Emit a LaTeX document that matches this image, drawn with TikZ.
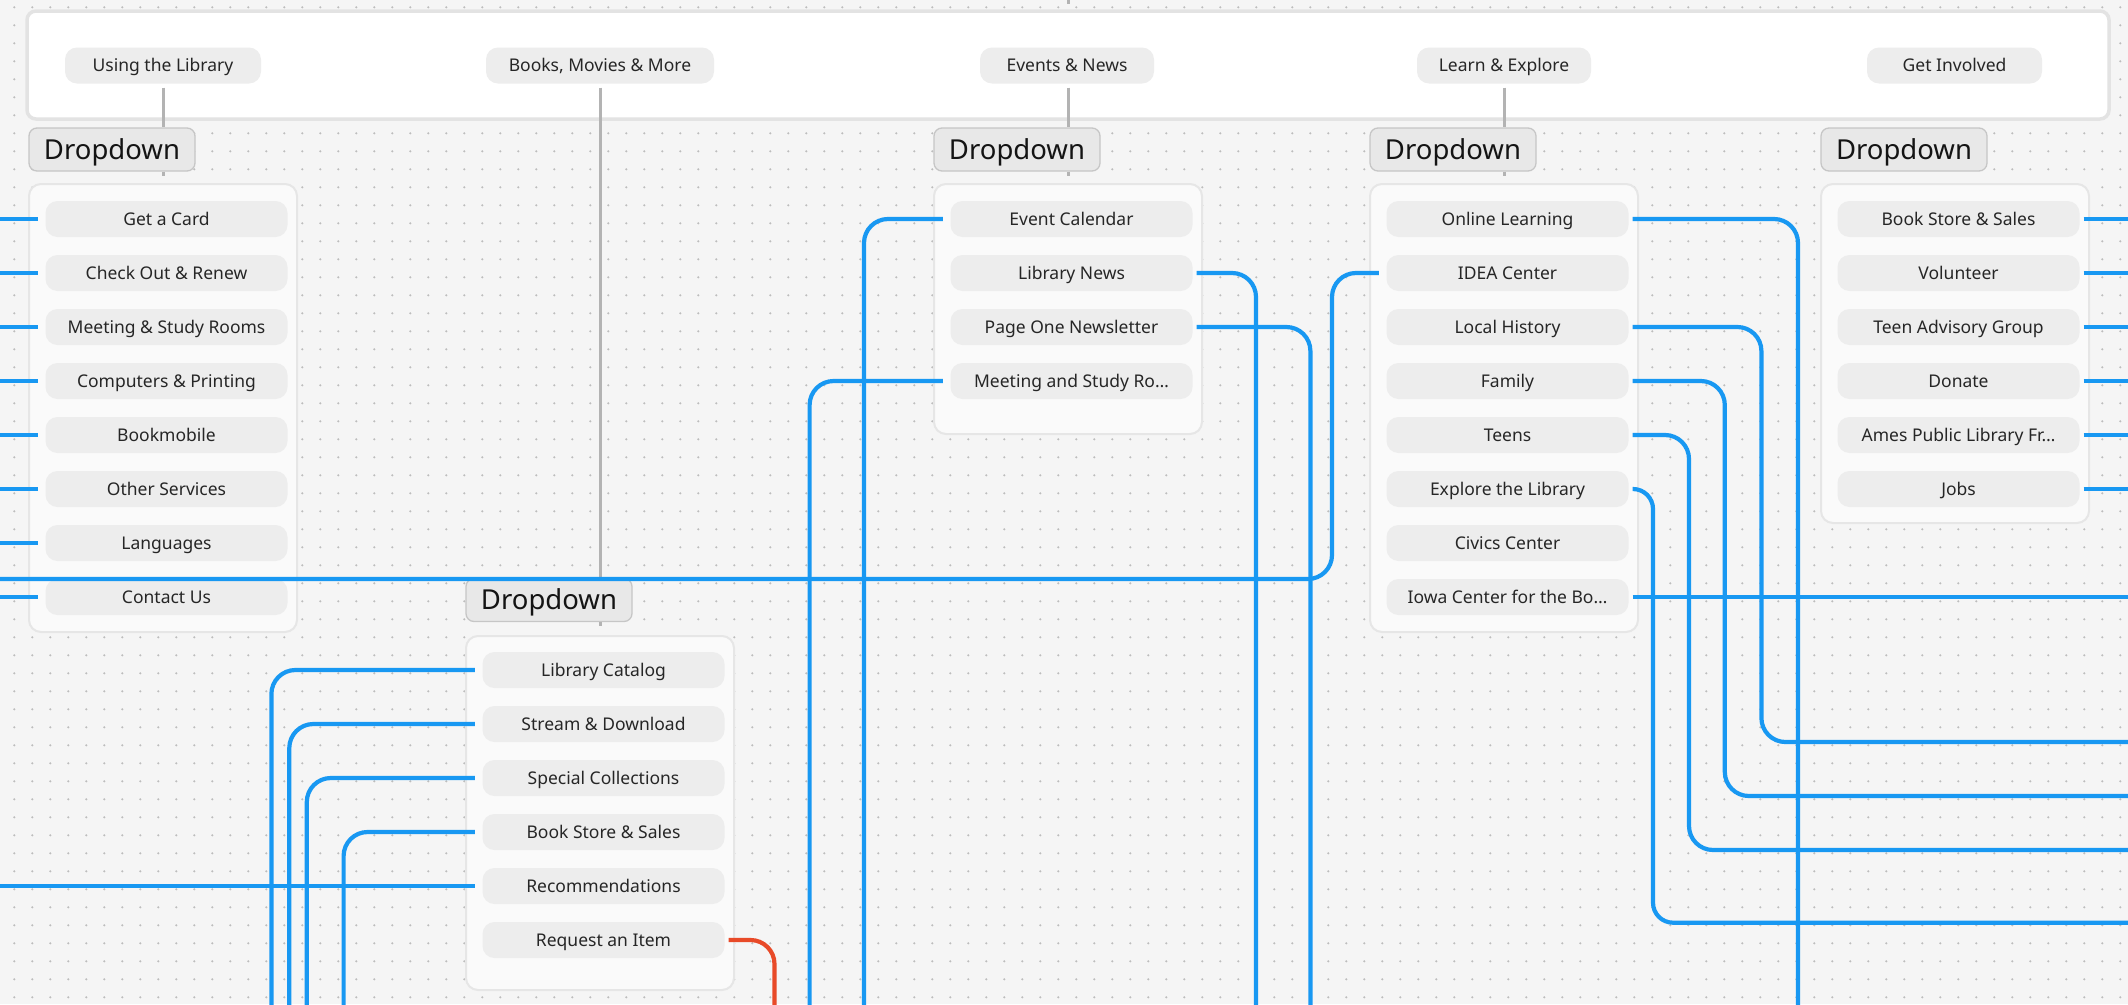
\documentclass[tikz,border=0pt]{standalone}
\usepackage{fontspec}
\setmainfont{Noto Sans}
\definecolor{bgc}{HTML}{F5F5F5}
\definecolor{dotc}{HTML}{BDBDBD}
\definecolor{panelb}{HTML}{E3E3E3}
\definecolor{menuc}{HTML}{FAFAFA}
\definecolor{menub}{HTML}{E6E6E6}
\definecolor{pillc}{HTML}{EDEDED}
\definecolor{dropc}{HTML}{E8E8E8}
\definecolor{dropb}{HTML}{C6C6C6}
\definecolor{txtc}{HTML}{262626}
\definecolor{grayl}{HTML}{B3B3B3}
\definecolor{bluel}{RGB}{24,152,242}
\definecolor{redl}{RGB}{232,74,40}
\newcommand\myitemfont{\fontsize{17.5}{20}\selectfont}
\newcommand\mydropfont{\fontsize{27.5}{30}\selectfont}
\begin{document}
\begin{tikzpicture}[x=1pt,y=-1pt,
  panelbox/.style={fill=white, draw=panelb, line width=3.5pt, rounded corners=9pt, minimum width=2082pt, minimum height=108pt, inner sep=0pt},
  menubox/.style={fill=menuc, draw=menub, line width=2pt, rounded corners=12pt, minimum width=268pt, inner sep=0pt},
  pill/.style={fill=pillc, rounded corners=12pt, minimum width=242pt, minimum height=36pt, inner sep=0pt, text height=12.5pt, text depth=0pt, font=\myitemfont, text=txtc},
  toppill/.style={pill, minimum width=#1},
  dropbox/.style={fill=dropc, draw=dropb, line width=1.3pt, rounded corners=8pt, minimum width=166pt, minimum height=43pt, inner sep=0pt, text height=19.6pt, text depth=0pt, font=\mydropfont, text=black!92},
  grayconn/.style={draw=grayl, line width=3pt},
  blueconn/.style={draw=bluel, line width=4.2pt, rounded corners=24pt},
  redconn/.style={draw=redl, line width=4.2pt, rounded corners=24pt}
]
\useasboundingbox (0,0) rectangle (2128,1004);
\fill[bgc] (0,0) rectangle (2128,1004);
\foreach \j in {0,...,55} {
  \draw[dotc, line width=2.3pt, line cap=round, dash pattern=on 0pt off 18pt] (14.3,7.3+18*\j) -- (2128,7.3+18*\j);
}
% edges
\coordinate (lefte) at (-2,0);
\coordinate (righte) at (2130,0);
\coordinate (topstubA) at (1068,-2);
\coordinate (topstubB) at (1068,4);

% top panel
\node[panelbox] (panel) at (1068,65) {};
\node[toppill=196pt] (T1) at (163,65.5) {Using the Library};
\node[toppill=228pt] (T2) at (600,65.5) {Books, Movies \& More};
\node[toppill=174pt] (T3) at (1067,65.5) {Events \& News};
\node[toppill=174pt] (T4) at (1504,65.5) {Learn \& Explore};
\node[toppill=175pt] (T5) at (1954.5,65.5) {Get Involved};

% menu boxes
\node[menubox, minimum height=448pt] (M1) at (163,408) {};
\node[menubox, minimum height=250pt] (M3) at (1068,309) {};
\node[menubox, minimum height=448pt] (M4) at (1504,408) {};
\node[menubox, minimum height=339pt] (M5) at (1955,353.5) {};
\node[menubox, minimum height=354pt] (M2) at (600,813) {};

% items: Using the Library
\foreach \t [count=\i] in {Get a Card, Check Out \& Renew, Meeting \& Study Rooms, Computers \& Printing, Bookmobile, Other Services, Languages, Contact Us}
  \node[pill] (L\i) at (166.5,165+54*\i) {\t};
% Events
\foreach \t [count=\i] in {Event Calendar, Library News, Page One Newsletter, Meeting and Study Ro…}
  \node[pill] (E\i) at (1071.5,165+54*\i) {\t};
% Learn
\foreach \t [count=\i] in {Online Learning, IDEA Center, Local History, Family, Teens, Explore the Library, Civics Center, Iowa Center for the Bo…}
  \node[pill] (N\i) at (1507.5,165+54*\i) {\t};
% Get involved
\foreach \t [count=\i] in {Book Store \& Sales, Volunteer, Teen Advisory Group, Donate, Ames Public Library Fr…, Jobs}
  \node[pill] (G\i) at (1958.5,165+54*\i) {\t};
% Books
\foreach \t [count=\i] in {Library Catalog, Stream \& Download, Special Collections, Book Store \& Sales, Recommendations, Request an Item}
  \node[pill] (B\i) at (603.5,616+54*\i) {\t};

% dropdown labels
\node[dropbox] (D1) at (112,149.5) {Dropdown};
\node[dropbox] (D3) at (1017,149.5) {Dropdown};
\node[dropbox] (D4) at (1453,149.5) {Dropdown};
\node[dropbox] (D5) at (1904,149.5) {Dropdown};
\node[dropbox] (D2) at (549,600) {Dropdown};

% gray connectors
\draw[grayconn] (topstubA) -- (topstubB);
\draw[grayconn, shorten <=4pt] (T1.south) -- (T1.south |- D1.north);
\draw[grayconn, shorten <=4pt] (T2.south) -- (T2.south |- D2.north);
\draw[grayconn, shorten <=4pt] ([xshift=1pt]T3.south) -- ([xshift=1pt]T3.south |- D3.north);
\draw[grayconn, shorten <=4pt] (T4.south) -- (T4.south |- D4.north);
\coordinate (s1) at (163,176); \draw[grayconn] (T1.south |- D1.south) -- (s1);
\coordinate (s2) at (600,626); \draw[grayconn] (T2.south |- D2.south) -- (s2);
\coordinate (s3) at (1068,176); \draw[grayconn] ([xshift=1pt]T3.south |- D3.south) -- (s3);
\coordinate (s4) at (1504,176); \draw[grayconn] (T4.south |- D4.south) -- (s4);

% blue connectors: Using the Library
\foreach \i in {1,...,8}
  \draw[blueconn] ([xshift=-7.5pt]L\i.west) -- (L\i.west -| lefte);

% IDEA Center long line
\coordinate (ideaB) at (1332,579);
\coordinate (ideaE) at (-2,579);
\draw[blueconn] ([xshift=-7.5pt]N2.west) -| (ideaB) -- (ideaE);

% Events
\coordinate (e1b) at (864,1008);
\coordinate (e4b) at (809.6,1008);
\coordinate (e2b) at (1256,1008);
\coordinate (e3b) at (1310.4,1008);
\draw[blueconn] ([xshift=-7.5pt]E1.west) -| (e1b);
\draw[blueconn] ([xshift=-7.5pt]E4.west) -| (e4b);
\draw[blueconn] ([xshift=4pt]E2.east) -| (e2b);
\draw[blueconn] ([xshift=4pt]E3.east) -| (e3b);

% Learn
\coordinate (n1b) at (1798,1008);
\coordinate (n3c) at (1761.4,742);
\coordinate (n4c) at (1724.8,796);
\coordinate (n5c) at (1689,850);
\coordinate (n6c) at (1653,922.7);
\draw[blueconn] ([xshift=4pt]N1.east) -| (n1b);
\draw[blueconn] ([xshift=4pt]N3.east) -| (n3c) -- (n3c -| righte);
\draw[blueconn] ([xshift=4pt]N4.east) -| (n4c) -- (n4c -| righte);
\draw[blueconn] ([xshift=4pt]N5.east) -| (n5c) -- (n5c -| righte);
\draw[blueconn, rounded corners=20pt] ([xshift=4pt]N6.east) -| (n6c) -- (n6c -| righte);
\draw[blueconn] ([xshift=4pt]N8.east) -- (N8.east -| righte);

% Get Involved
\foreach \i in {1,...,6}
  \draw[blueconn] ([xshift=4pt]G\i.east) -- (G\i.east -| righte);

% Books
\coordinate (b1b) at (271.4,1008);
\coordinate (b2b) at (289.3,1008);
\coordinate (b3b) at (306.8,1008);
\coordinate (b4b) at (343.6,1008);
\coordinate (b6b) at (774.5,1008);
\draw[blueconn] ([xshift=-7.5pt]B1.west) -| (b1b);
\draw[blueconn] ([xshift=-7.5pt]B2.west) -| (b2b);
\draw[blueconn] ([xshift=-7.5pt]B3.west) -| (b3b);
\draw[blueconn] ([xshift=-7.5pt]B4.west) -| (b4b);
\draw[blueconn] ([xshift=-7.5pt]B5.west) -- (B5.west -| lefte);
\draw[redconn] ([xshift=4pt]B6.east) -| (b6b);
\end{tikzpicture}
\end{document}
